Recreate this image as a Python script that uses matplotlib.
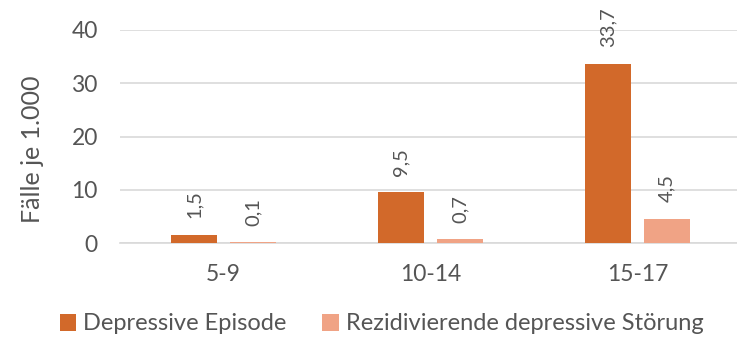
import matplotlib
matplotlib.use("Agg")
import matplotlib.pyplot as plt
import numpy as np

categories = ["5-9", "10-14", "15-17"]
episode = [1.5, 9.5, 33.7]
recurrent = [0.1, 0.7, 4.5]
series_names = ["Depressive Episode", "Rezidivierende depressive Störung"]
y_ticks = [0, 10, 20, 30, 40]

plt.rcParams["font.family"] = ["Lato", "DejaVu Sans"]
text_color = "#555555"
c_episode = "#D2692A"
c_recurrent = "#F0A385"

fig = plt.figure(figsize=(7.37, 3.48), dpi=100)
ax = fig.add_axes([120 / 737, 105 / 348, 621 / 737, 213 / 348])

x = np.arange(len(categories))
w = 0.223
off = 0.143
b1 = ax.bar(x - off, episode, width=w, color=c_episode, zorder=3)
b2 = ax.bar(x + off, recurrent, width=w, color=c_recurrent, zorder=3)

def fmt(v):
    return f"{v:.1f}".replace(".", ",")

for bars, vals in ((b1, episode), (b2, recurrent)):
    for rect, v in zip(bars, vals):
        ax.annotate(fmt(v), (rect.get_x() + rect.get_width() / 2, v),
                    xytext=(0, 12), textcoords="offset points",
                    rotation=90, ha="center", va="bottom",
                    fontsize=14.5, color=text_color)

ax.set_xlim(-0.5, 2.5)
ax.set_ylim(0, 40)
ax.set_yticks(y_ticks)
ax.set_yticklabels([str(t) for t in y_ticks])
ax.set_xticks(x)
ax.set_xticklabels(categories)
ax.tick_params(axis="both", length=0, colors=text_color, labelsize=16.5)
ax.tick_params(axis="y", pad=16)
ax.tick_params(axis="x", pad=15)
ax.grid(axis="y", color="#D9D9D9", linewidth=1.2, zorder=0)
for s in ("top", "right", "left"):
    ax.spines[s].set_visible(False)
ax.spines["bottom"].set_color("#D9D9D9")
ax.spines["bottom"].set_linewidth(1.2)

ax.set_ylabel("Fälle je 1.000", fontsize=18, color=text_color)
ax.yaxis.set_label_coords(-0.122, 0.44)

fig.legend([b1, b2], series_names, loc="center", bbox_to_anchor=(0.518, 24 / 348),
           ncol=2, frameon=False, fontsize=17, labelcolor=text_color,
           handlelength=0.7, handleheight=0.7, handletextpad=0.3, columnspacing=1.5)

fig.savefig("out.png", dpi=100)
